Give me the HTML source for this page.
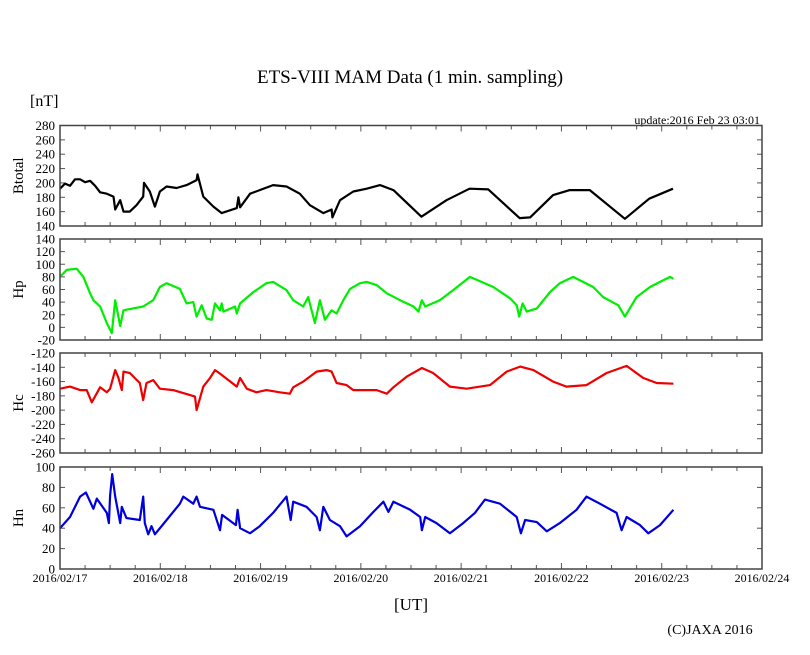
<!DOCTYPE html>
<html><head><meta charset="utf-8"><style>
body{margin:0;background:#fff;}
svg{display:block;font-family:"Liberation Serif",serif;}
</style></head><body>
<svg id="chart" width="810" height="655" viewBox="0 0 810 655">
<text x="410" y="83" font-size="19" text-anchor="middle">ETS-VIII MAM Data (1 min. sampling)</text>
<text x="30" y="106" font-size="16">[nT]</text>
<text x="760" y="124" font-size="12" text-anchor="end">update:2016 Feb 23 03:01</text>
<text x="411" y="610" font-size="17" text-anchor="middle">[UT]</text>
<text x="710" y="634" font-size="14" text-anchor="middle">(C)JAXA 2016</text>
<g id="panels"></g>
</svg>
<script>
const dayLabels=["2016/02/17","2016/02/18","2016/02/19","2016/02/20","2016/02/21","2016/02/22","2016/02/23","2016/02/24"];
const btT=[0,1.2,2.4,3.6,4.8,6.0,7.2,8.4,9.6,11.2,12.8,13.2,14.4,15.2,16.7,18.3,19.9,20.1,21.5,22.7,23.9,25.5,27.9,30.3,32.7,32.9,34.3,36.7,38.7,42.3,42.7,43.1,45.5,47.8,51.0,54.2,57.4,59.8,63.0,65.0,65.2,67.0,70.2,73.4,76.6,79.8,86.5,92.5,98.0,102.5,110.0,112.5,118.0,122.0,126.8,135.2,141.0,146.7];
const btV=[192,199,196,205,205,201,203,196,187,185,181,163,176,160,160,169,181,200,188,167,188,195,193,197,204,212,181,167,158,165,180,166,185,190,197,195,185,169,158,163,152,176,188,192,197,190,153,176,192,191,151,152,183,190,190,150,178,192];
const hpT=[0,1.6,4.0,5.6,7.2,8.0,9.6,11.2,12.4,13.2,14.4,15.2,17.5,19.9,22.3,23.9,25.5,28.7,30.3,31.9,32.7,33.9,35.1,36.3,37.1,38.3,38.7,39.1,41.9,42.3,43.1,46.3,49.4,51.0,54.2,55.8,58.2,59.4,61.0,62.2,63.4,65.0,66.2,67.8,69.4,71.8,73.4,75.8,78.2,81.4,84.6,85.8,86.6,87.4,90.9,94.1,98.1,103.7,107.7,109.3,109.9,110.7,111.7,114.1,117.3,119.6,122.8,127.6,130.0,133.6,135.2,138.0,141.2,143.6,146.0,146.8];
const hpV=[80,91,93,80,54,43,33,7,-9,43,2,27,30,33,43,64,70,61,38,40,17,35,14,12,38,27,38,25,33,22,38,56,70,72,59,43,33,48,7,43,12,27,22,43,61,70,72,67,54,43,33,25,43,33,43,59,80,64,46,35,17,38,25,30,56,70,80,64,48,35,17,48,64,72,80,77];
const hcT=[0,2.4,4.8,6.4,7.6,9.6,11.2,12.0,13.2,14.0,14.8,15.2,16.7,19.1,19.9,20.7,22.3,23.9,27.1,31.1,32.3,32.7,34.3,35.9,37.1,38.1,42.3,43.1,44.7,47.0,49.4,52.6,55.0,55.8,58.2,61.4,63.8,65.0,66.2,68.6,70.2,71.8,75.8,78.2,79.8,83.0,86.6,89.3,93.3,97.3,102.9,106.9,110.1,113.3,118.0,121.2,126.0,130.8,135.6,139.6,142.8,146.8];
const hcV=[-170,-167,-172,-172,-189,-168,-175,-170,-144,-155,-172,-146,-148,-162,-186,-162,-158,-170,-172,-179,-181,-200,-167,-155,-144,-148,-167,-155,-170,-175,-172,-175,-177,-168,-160,-146,-144,-146,-162,-165,-172,-172,-172,-177,-168,-153,-141,-148,-167,-170,-165,-146,-139,-144,-160,-167,-165,-148,-138,-155,-162,-163];
const hnT=[0,2.4,4.8,6.2,8.0,8.8,11.2,11.7,12.0,12.5,13.2,14.4,14.8,15.9,19.1,19.9,20.3,21.1,21.9,22.7,25.5,28.7,29.5,31.9,32.7,33.5,36.7,38.3,38.8,42.1,42.5,43.1,45.5,47.8,51.0,54.2,55.2,55.8,59.0,61.4,62.2,63.0,64.6,67.0,68.6,71.8,75.0,77.4,78.6,79.8,83.8,86.2,86.6,87.4,90.1,93.3,96.5,99.3,101.7,105.3,109.3,110.3,111.3,114.1,116.5,119.6,123.6,126.0,129.2,133.2,134.4,135.6,138.8,140.8,143.6,146.8];
const hnV=[40,51,71,75,59,69,55,45,72,93,71,45,61,50,48,71,45,34,42,34,48,64,71,64,71,61,58,38,53,43,58,40,35,42,55,71,48,66,61,51,38,61,48,42,32,42,56,66,56,66,58,51,38,51,45,35,45,55,68,64,51,35,48,46,37,45,58,71,64,55,38,51,43,35,43,58];
const btTicks=[140,160,180,200,220,240,260,280];
const hpTicks=[-20,0,20,40,60,80,100,120,140];
const hcTicks=[-260,-240,-220,-200,-180,-160,-140,-120];
const hnTicks=[0,20,40,60,80,100];

const NS="http://www.w3.org/2000/svg";
const X0=60,X1=762,HOURS=168;
function xScale(h){return X0+(X1-X0)*h/HOURS;}
function mk(tag,attrs,parent){const e=document.createElementNS(NS,tag);for(const k in attrs)e.setAttribute(k,attrs[k]);parent.appendChild(e);return e;}
const root=document.getElementById('panels');
const panels=[
 {name:'btotal',label:'Btotal',top:125.5,bot:226,ticks:btTicks,t:btT,v:btV,color:'#000'},
 {name:'hp',label:'Hp',top:239,bot:340,ticks:hpTicks,t:hpT,v:hpV,color:'#00ee00'},
 {name:'hc',label:'Hc',top:353,bot:453,ticks:hcTicks,t:hcT,v:hcV,color:'#ee0000'},
 {name:'hn',label:'Hn',top:467,bot:569,ticks:hnTicks,t:hnT,v:hnV,color:'#0000dd'}
];
panels.forEach((p,pi)=>{
 const g=mk('g',{},root);
 
 
 const lo=p.ticks[0],hi=p.ticks[p.ticks.length-1];
 const y=v=>p.bot-(v-lo)/(hi-lo)*(p.bot-p.top);
 for(let h=0;h<=HOURS;h+=6){
  const x=xScale(h),len=(h%24===0)?6:4;
  mk('line',{x1:x,x2:x,y1:p.top,y2:p.top+len,stroke:'#555','stroke-width':1},g);
  mk('line',{x1:x,x2:x,y1:p.bot,y2:p.bot-len,stroke:'#555','stroke-width':1},g);
 }
 p.ticks.forEach(tv=>{
  const yy=y(tv);
  mk('line',{x1:X0,x2:X0+5,y1:yy,y2:yy,stroke:'#555','stroke-width':1},g);
  mk('line',{x1:X1,x2:X1-5,y1:yy,y2:yy,stroke:'#555','stroke-width':1},g);
  const t=mk('text',{x:55,y:yy+4.5,'font-size':13,'text-anchor':'end'},g);
  t.textContent=tv;
  
  
 });
 const lab=mk('text',{x:0,y:0,'font-size':15,'text-anchor':'middle',transform:`translate(23,${(p.top+p.bot)/2}) rotate(-90)`},g);
 lab.textContent=p.label;
 
 
 let d='';
 p.t.forEach((h,i)=>{d+=(i?'L':'M')+xScale(h).toFixed(1)+','+y(p.v[i]).toFixed(1);});
 const path=mk('path',{d:d,fill:'none',stroke:p.color,'stroke-width':2.2,'stroke-linejoin':'round'},g);
 
 
 const fr=mk('rect',{x:X0,y:p.top,width:X1-X0,height:p.bot-p.top,fill:'none',stroke:'#444','stroke-width':1.5},g);
 
 
});
dayLabels.forEach((s,i)=>{
 const t=mk('text',{x:xScale(i*24),y:582,'font-size':12,'text-anchor':'middle'},root);
 t.textContent=s;
 
 
});
</script>
</body></html>
